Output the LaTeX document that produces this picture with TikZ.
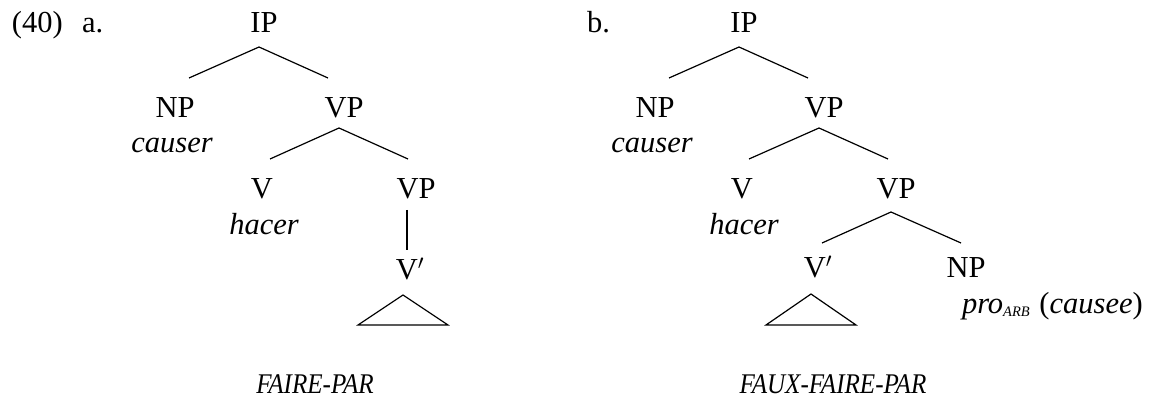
\documentclass[tikz,border=0pt]{standalone}
\usepackage{fontspec}
\setmainfont{Liberation Serif}
\begin{document}
\begin{tikzpicture}[x=1pt,y=-1pt,
  lab/.style={anchor=base,inner sep=0pt,outer sep=0pt,font=\fontsize{30.5}{36}\selectfont},
  labw/.style={lab,anchor=base west},
  gloss/.style={lab,font=\fontsize{30.5}{36}\selectfont\itshape},
  bottom/.style={lab,font=\fontsize{28.5}{32}\selectfont\itshape},
  br/.style={line width=1.2pt,line join=miter}]
\useasboundingbox (0,0) rectangle (1154,406);
% labels
\node[labw] (num) at (12,33) {(40)};
\node[labw] (alab) at (82,33) {a.};
\node[labw] (blab) at (587,33) {b.};
% tree a
\node[lab] (aIP) at (264,33) {IP};
\node[lab] (aNP) at (175,118) {NP};
\node[gloss] (acauser) at (172,153) {causer};
\node[lab] (aVP) at (344,118) {VP};
\node[lab] (aV) at (262,199) {V};
\node[gloss] (ahacer) at (264,235) {hacer};
\node[lab] (aVPb) at (416,199) {VP};
\node[lab] (aVbar) at (410,279) {V$'$};
\draw[br] ([xshift=-5pt,yshift=-14pt]aIP.base) -- ([xshift=14pt,yshift=40pt]aNP.base);
\draw[br] ([xshift=-5pt,yshift=-14pt]aIP.base) -- ([xshift=-16pt,yshift=40pt]aVP.base);
\draw[br] ([xshift=-5pt,yshift=-10pt]aVP.base) -- ([xshift=8pt,yshift=40pt]aV.base);
\draw[br] ([xshift=-5pt,yshift=-10pt]aVP.base) -- ([xshift=-8pt,yshift=40pt]aVPb.base);
\draw[br] ([xshift=-9pt,yshift=-11pt]aVPb.base) -- ([xshift=-3pt,yshift=29pt]aVbar.base);
\draw[br] ([xshift=-7pt,yshift=-16pt]aVbar.base) -- ([xshift=-52pt,yshift=-46pt]aVbar.base)
  -- ([xshift=38pt,yshift=-46pt]aVbar.base) -- cycle;
% tree b
\node[lab] (bIP) at (744,33) {IP};
\node[lab] (bNP) at (655,118) {NP};
\node[gloss] (bcauser) at (652,153) {causer};
\node[lab] (bVP) at (824,118) {VP};
\node[lab] (bV) at (742,199) {V};
\node[gloss] (bhacer) at (744,235) {hacer};
\node[lab] (bVPb) at (896,199) {VP};
\node[lab] (bVbar) at (818,277) {V$'$};
\node[lab] (bNPb) at (966,277) {NP};
\node[labw] (bpro) at (962,313) {\textit{pro}\raisebox{-3pt}{\fontsize{14.5}{16}\selectfont\itshape ARB}\hspace{2pt} (\textit{causee})};
\draw[br] ([xshift=-5pt,yshift=-14pt]bIP.base) -- ([xshift=14pt,yshift=40pt]bNP.base);
\draw[br] ([xshift=-5pt,yshift=-14pt]bIP.base) -- ([xshift=-16pt,yshift=40pt]bVP.base);
\draw[br] ([xshift=-5pt,yshift=-10pt]bVP.base) -- ([xshift=7pt,yshift=40pt]bV.base);
\draw[br] ([xshift=-5pt,yshift=-10pt]bVP.base) -- ([xshift=-8pt,yshift=40pt]bVPb.base);
\draw[br] ([xshift=-5pt,yshift=-13pt]bVPb.base) -- ([xshift=4pt,yshift=34pt]bVbar.base);
\draw[br] ([xshift=-5pt,yshift=-13pt]bVPb.base) -- ([xshift=-5pt,yshift=34pt]bNPb.base);
\draw[br] ([xshift=-7pt,yshift=-17pt]bVbar.base) -- ([xshift=-52pt,yshift=-48pt]bVbar.base)
  -- ([xshift=38pt,yshift=-48pt]bVbar.base) -- cycle;
% bottom captions
\node[bottom] (acap) at (315,393) {\scalebox{0.88}[1]{FAIRE-PAR}};
\node[bottom] (bcap) at (833,393) {\scalebox{0.88}[1]{FAUX-FAIRE-PAR}};
\end{tikzpicture}
\end{document}
